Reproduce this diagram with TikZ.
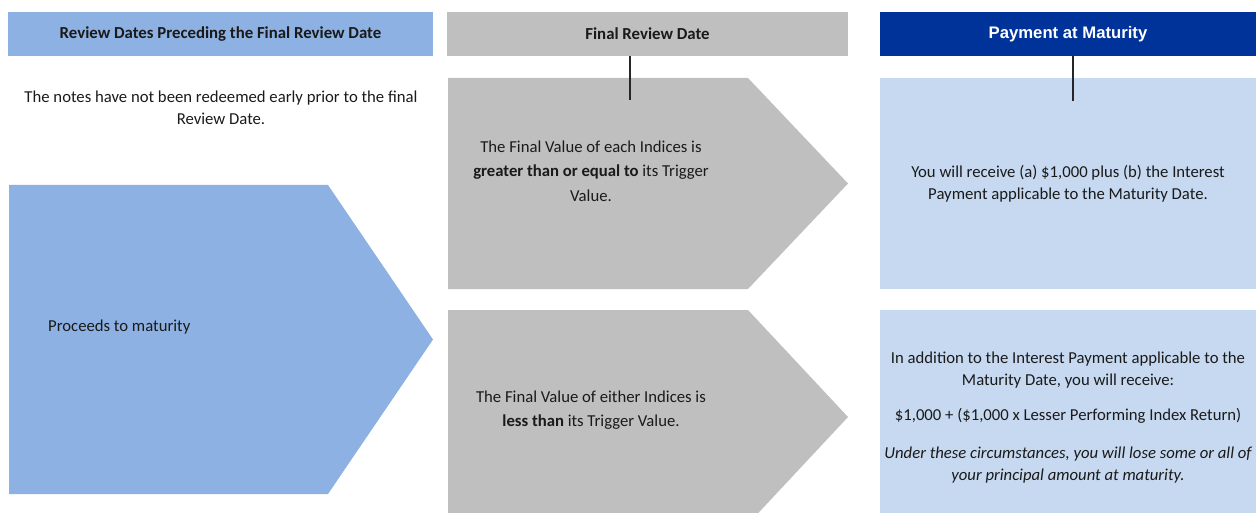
\documentclass[tikz,border=0pt]{standalone}
\usepackage{fontspec}
\setmainfont{Carlito}
\newfontfamily\arialfont{Liberation Sans}
\definecolor{colblue}{HTML}{8DB1E2}
\definecolor{colgray}{HTML}{BFBFBF}
\definecolor{navy}{HTML}{003399}
\definecolor{paleblue}{HTML}{C6D9F0}
\definecolor{ink}{HTML}{1A1A1A}
\tikzset{
  hdr/.style={inner sep=0pt, minimum height=44pt, text=ink, font=\fontsize{16.8}{20}\selectfont\bfseries},
  body/.style={inner sep=0pt, align=center, text=ink, font=\fontsize{16.7}{22}\selectfont},
  tick/.style={line width=1.6pt, draw=black!85}
}
\begin{document}
\begin{tikzpicture}[x=1pt,y=-1pt]
\useasboundingbox (0,0) rectangle (1256,513);
\clip (0,0) rectangle (1256,513);

% column headers
\node[hdr, fill=colblue, minimum width=425pt] (h1) at (220.5,34) {Review Dates Preceding the Final Review Date};
\node[hdr, fill=colgray, minimum width=401pt] (h2) at (647.5,34) {Final Review Date};
\node[hdr, fill=navy, minimum width=376pt, text=white, font=\fontsize{16.7}{20}\selectfont\arialfont\bfseries] (h3) at (1068,34) {Payment at Maturity};

% left column
\node[body] (note) at (221,108) {The notes have not been redeemed early prior to the final\\Review Date.};
\fill[colblue] (9,185) -- (328,185) -- (433,339.5) -- (328,494) -- (9,494) -- cycle;
\node[body, anchor=west] (proc) at (48,327) {Proceeds to maturity};

% middle column
\fill[colgray] (448,78) -- (748,78) -- (848,183.5) -- (748,289) -- (448,289) -- cycle;
\fill[colgray] (448,310) -- (748,310) -- (848,417) -- (748,524) -- (448,524) -- cycle;
\node[body, font=\fontsize{16.7}{24.5}\selectfont] (upper) at (591,171) {The Final Value of each Indices is\\\textbf{greater than or equal to} its Trigger\\Value.};
\node[body, font=\fontsize{16.7}{24.5}\selectfont] (lower) at (591,410) {The Final Value of either Indices is\\\textbf{less than} its Trigger Value.};

% right column
\fill[paleblue] (880,78) rectangle (1260,289);
\fill[paleblue] (880,310) rectangle (1260,524);
\node[body] (pay1) at (1068,184) {You will receive (a) \$1,000 plus (b) the Interest\\Payment applicable to the Maturity Date.};
\node[body] (pay2) at (1068,417.5) {In addition to the Interest Payment applicable to the\\Maturity Date, you will receive:\\[13pt]
\$1,000 + (\$1,000 x Lesser Performing Index Return)\\[16pt]
\itshape Under these circumstances, you will lose some or all of\\\itshape your principal amount at maturity.};

% ticks under the headers
\coordinate (t2) at (630,100);
\coordinate (t3) at (1073,101);
\draw[tick] (h2.south -| t2) -- (t2);
\draw[tick] (h3.south -| t3) -- (t3);
\end{tikzpicture}
\end{document}
